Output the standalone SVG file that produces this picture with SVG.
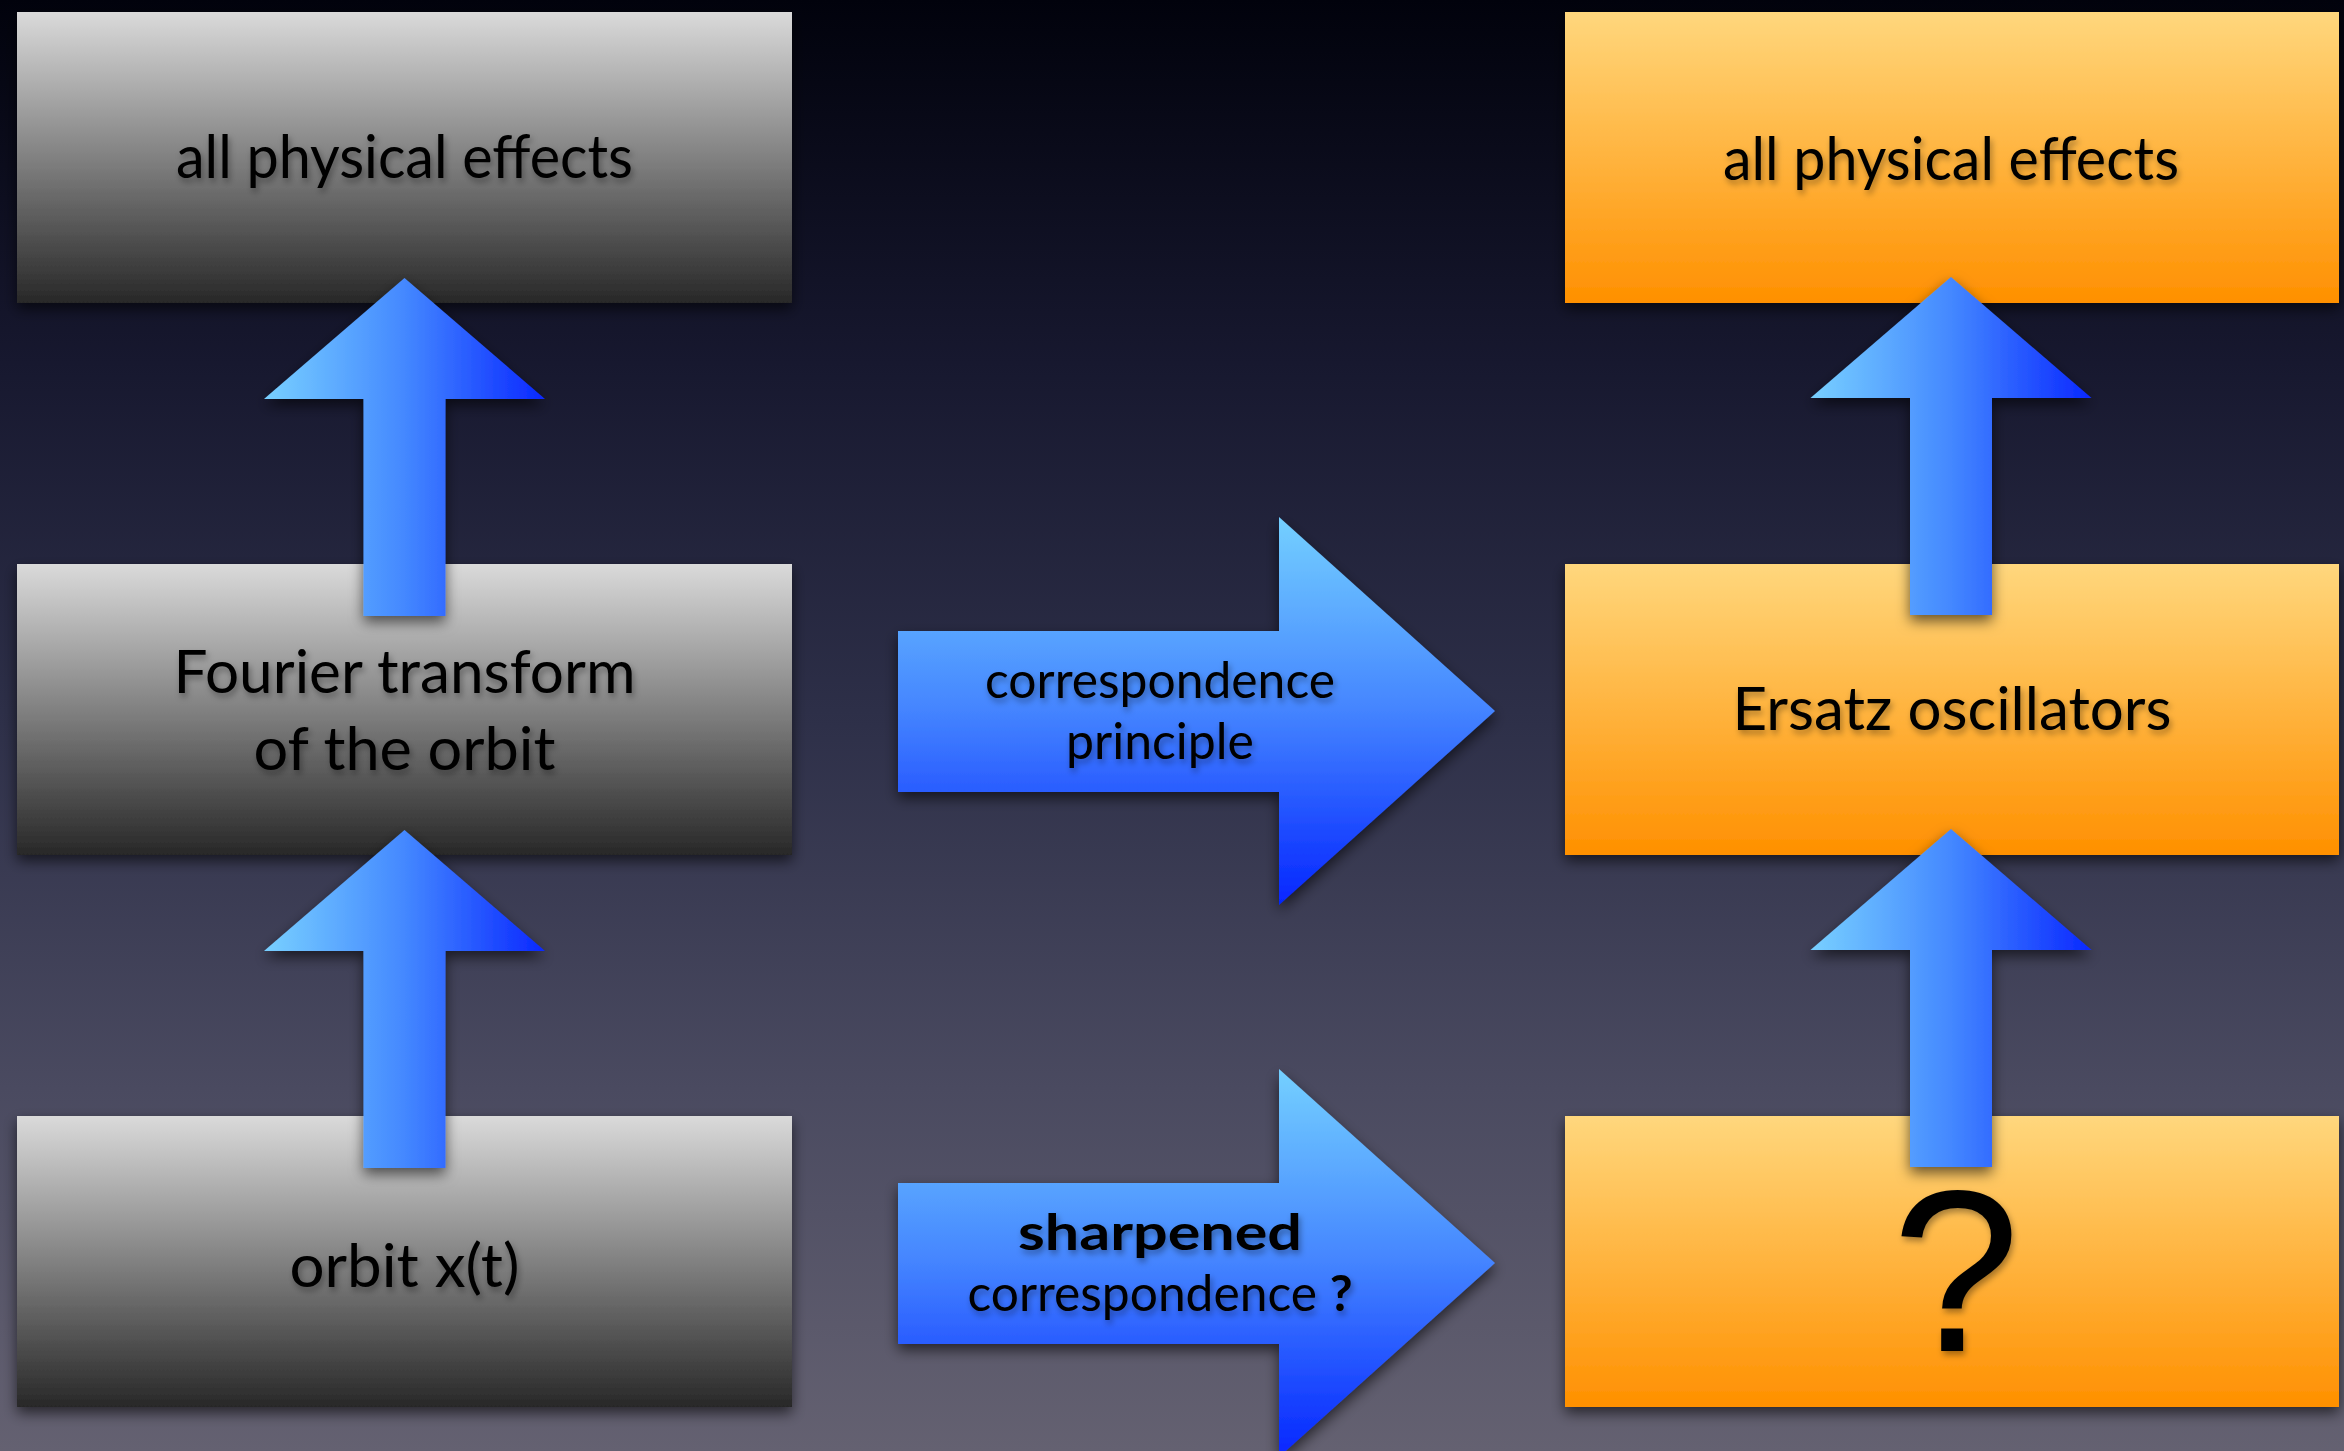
<svg xmlns="http://www.w3.org/2000/svg" width="2344" height="1451" viewBox="0 0 2344 1451">
  <defs>
    <linearGradient id="bg" x1="0" y1="0" x2="0" y2="1">
      <stop offset="0" stop-color="#01020c"/>
      <stop offset="0.25" stop-color="#17182f"/>
      <stop offset="0.5" stop-color="#2e3049"/>
      <stop offset="0.75" stop-color="#4a4a60"/>
      <stop offset="1" stop-color="#646171"/>
    </linearGradient>
    <linearGradient id="gray" x1="0" y1="0" x2="0" y2="1">
      <stop offset="0" stop-color="#dadada"/>
      <stop offset="1" stop-color="#282828"/>
    </linearGradient>
    <linearGradient id="orange" x1="0" y1="0" x2="0" y2="1">
      <stop offset="0" stop-color="#ffd77d"/>
      <stop offset="1" stop-color="#ff9000"/>
    </linearGradient>
    <linearGradient id="blueH" x1="0" y1="0" x2="1" y2="0">
      <stop offset="0" stop-color="#78d0ff"/>
      <stop offset="0.5" stop-color="#4488ff"/>
      <stop offset="1" stop-color="#0a28ff"/>
    </linearGradient>
    <linearGradient id="blueV" x1="0" y1="0" x2="0" y2="1">
      <stop offset="0" stop-color="#74d0ff"/>
      <stop offset="0.5" stop-color="#4484ff"/>
      <stop offset="1" stop-color="#0526ff"/>
    </linearGradient>
    <filter id="shadow" x="-10%" y="-10%" width="120%" height="130%">
      <feDropShadow dx="0" dy="6" stdDeviation="7" flood-color="#000" flood-opacity="0.6"/>
    </filter>
    <filter id="tshadow" x="-5%" y="-20%" width="110%" height="150%">
      <feDropShadow dx="2" dy="4" stdDeviation="3" flood-color="#000" flood-opacity="0.35"/>
    </filter>
    <path id="upArrow" d="M0,0 L140.5,121 L41,121 L41,338 L-41,338 L-41,121 L-140.5,121 Z" fill="url(#blueH)"/>
    <path id="rightArrow" d="M898,631 H1279 V517 L1495,711 L1279,905 V792 H898 Z" fill="url(#blueV)"/>
  </defs>
  <style>
    .box { filter: url(#shadow); }
    .gray { fill: url(#gray); }
    .orange { fill: url(#orange); }
    .lbl { font-family: Lato, "Open Sans", "Liberation Sans", sans-serif; font-size: 60px; fill: #000; text-anchor: middle; filter: url(#tshadow); }
    .albl { font-family: Lato, "Open Sans", "Liberation Sans", sans-serif; font-size: 50px; fill: #000; text-anchor: middle; filter: url(#tshadow); }
    .arrow { filter: url(#shadow); }
  </style>
  <rect x="0" y="0" width="2344" height="1451" fill="url(#bg)"/>

  <g id="node-left-top" class="box">
    <rect class="gray" x="17" y="12" width="775" height="291"/>
  </g>
  <g id="node-left-mid" class="box">
    <rect class="gray" x="17" y="564" width="775" height="291"/>
  </g>
  <g id="node-left-bottom" class="box">
    <rect class="gray" x="17" y="1116" width="775" height="291"/>
  </g>
  <g id="node-right-top" class="box">
    <rect class="orange" x="1565" y="12" width="774" height="291"/>
  </g>
  <g id="node-right-mid" class="box">
    <rect class="orange" x="1565" y="564" width="774" height="291"/>
  </g>
  <g id="node-right-bottom" class="box">
    <rect class="orange" x="1565" y="1116" width="774" height="291"/>
  </g>

  <g id="connectors">
    <use href="#upArrow" class="arrow" transform="translate(404.5,278)"/>
    <use href="#upArrow" class="arrow" transform="translate(404.5,830)"/>
    <use href="#upArrow" class="arrow" transform="translate(1951,277)"/>
    <use href="#upArrow" class="arrow" transform="translate(1951,829)"/>
    <use href="#rightArrow" class="arrow"/>
    <use href="#rightArrow" class="arrow" transform="translate(0,552)"/>
  </g>

  <g id="labels">
    <text class="lbl" x="404.5" y="178" textLength="457" lengthAdjust="spacingAndGlyphs">all physical effects</text>
    <text class="lbl" x="404.5" y="693" textLength="462" lengthAdjust="spacingAndGlyphs">Fourier transform</text>
    <text class="lbl" x="404.5" y="770" textLength="302" lengthAdjust="spacingAndGlyphs">of the orbit</text>
    <text class="lbl" x="404.5" y="1287" textLength="230" lengthAdjust="spacingAndGlyphs">orbit x(t)</text>
    <text class="lbl" x="1951" y="180" textLength="456" lengthAdjust="spacingAndGlyphs">all physical effects</text>
    <text class="lbl" x="1952" y="730" textLength="439" lengthAdjust="spacingAndGlyphs">Ersatz oscillators</text>
    <text x="1956" y="1351" style="font-family: 'Liberation Sans', Arial, sans-serif; font-size: 230px; fill: #000; text-anchor: middle; filter: url(#tshadow);">?</text>
    <text class="albl" x="1160" y="698" textLength="350" lengthAdjust="spacingAndGlyphs">correspondence</text>
    <text class="albl" x="1160" y="759" textLength="188" lengthAdjust="spacingAndGlyphs">principle</text>
    <text class="albl" x="1160" y="1250" font-weight="bold" textLength="284" lengthAdjust="spacingAndGlyphs">sharpened</text>
    <text class="albl" x="1160" y="1311" textLength="385" lengthAdjust="spacingAndGlyphs">correspondence <tspan font-weight="bold">?</tspan></text>
  </g>
</svg>
